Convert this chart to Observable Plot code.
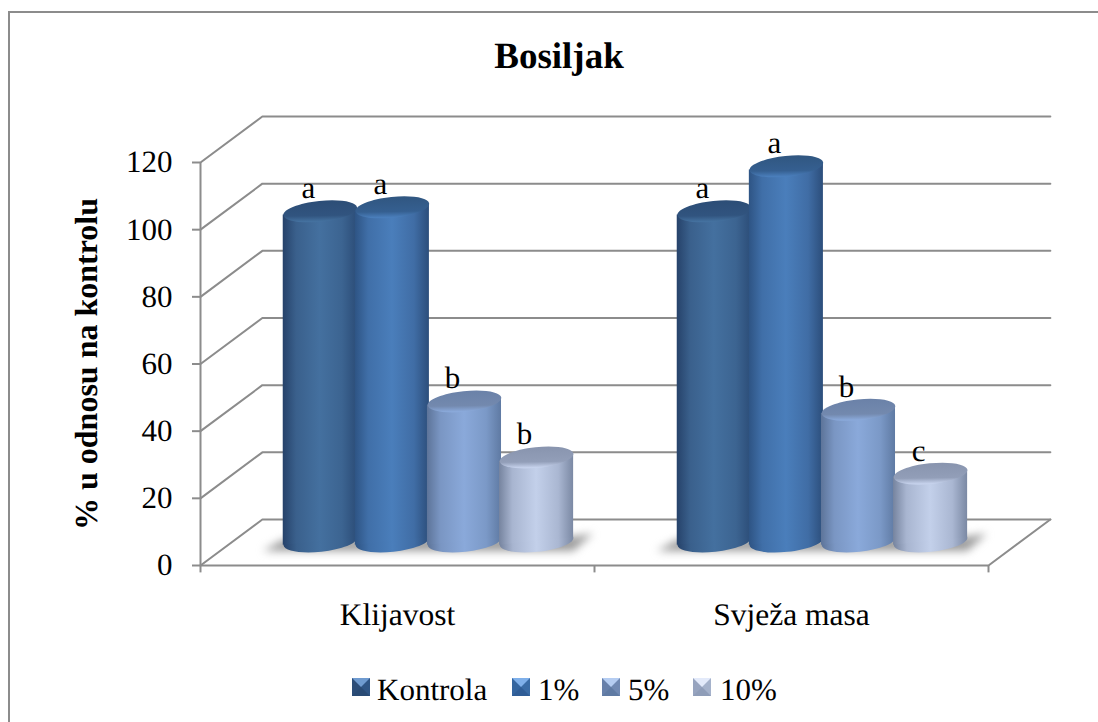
<!DOCTYPE html>
<html><head><meta charset="utf-8">
<script src="https://cdn.jsdelivr.net/npm/d3@7"></script>
<script src="https://cdn.jsdelivr.net/npm/@observablehq/plot@0.6"></script>
<style>
html,body{margin:0;padding:0;background:#fff;width:1098px;height:722px;overflow:hidden;font-family:"Liberation Serif",serif;color:#000;text-rendering:geometricPrecision}
#wrap{position:relative;width:1098px;height:722px}
#border{position:absolute;left:8px;top:11px;right:0;bottom:0;border-left:2px solid #8c8c8c;border-top:2px solid #8c8c8c}
#title{position:absolute;left:0;top:36px;width:1118px;text-align:center;font-weight:bold;font-size:37px;line-height:42px}
#legend{position:absolute;left:0;top:671px;height:38px;font-size:31px;line-height:38px}
#legend span{position:absolute;white-space:nowrap}
#legend i{position:absolute;top:7px;width:0;height:0;border-style:solid;border-width:9px}
svg{position:absolute;left:0;top:0;text-rendering:geometricPrecision}
</style></head><body>
<div id="wrap"><div id="border"></div><div id="title">Bosiljak</div><div id="legend"></div></div>
<script>
const groups = ["Klijavost", "Svježa masa"];
const series = ["Kontrola", "1%", "5%", "10%"];
const klijavost = [98.6, 99.8, 42, 25.3];
const svjezaMasa = [98.6, 112, 39.5, 20.5];
const letters1 = ["a", "a", "b", "b"];
const letters2 = ["a", "a", "b", "c"];
const yTicks = [0, 20, 40, 60, 80, 100, 120];

const depthX = 0.157, depthY = 13.7;      // wall depth in scale units
const spacing = 0.183, barW = 0.188, tilt = 1.1;
const groupValues = [klijavost, svjezaMasa];
const groupLetters = [letters1, letters2];

const bars = groups.flatMap((g, gi) => series.map((s, si) => ({
  group: g, series: s, si,
  cx: gi + 0.5 + depthX / 2 + (si - 1.5) * spacing,
  v: groupValues[gi][si],
  letter: groupLetters[gi][si],
  base: depthY / 2 + 0.3
})));
bars.forEach(b => { b.top = b.v + depthY / 2; });

const bodyRows = bars.flatMap(b => [
  {key: b.group + b.series, si: b.si, x: b.cx - barW / 2, y1: b.base - tilt, y2: b.top - tilt},
  {key: b.group + b.series, si: b.si, x: b.cx + barW / 2, y1: b.base + tilt, y2: b.top + tilt}
]);

const ellipse = {
  draw(ctx, size) {
    const rx = Math.sqrt(size / Math.PI), ry = rx * 0.28, a = -6 * Math.PI / 180;
    const k = 0.5523, c = Math.cos(a), s = Math.sin(a);
    const P = (x, y) => [x * rx * c - y * ry * s, x * rx * s + y * ry * c];
    ctx.moveTo(...P(1, 0));
    ctx.bezierCurveTo(...P(1, k), ...P(k, 1), ...P(0, 1));
    ctx.bezierCurveTo(...P(-k, 1), ...P(-1, k), ...P(-1, 0));
    ctx.bezierCurveTo(...P(-1, -k), ...P(-k, -1), ...P(0, -1));
    ctx.bezierCurveTo(...P(k, -1), ...P(1, -k), ...P(1, 0));
    ctx.closePath();
  }
};

const wallLines = yTicks.flatMap(v => [
  {k: v, x: 0, y: v},
  {k: v, x: depthX, y: v + depthY},
  {k: v, x: 2 + depthX, y: v + depthY}
]);
const floorLine = [
  {x: 0, y: 0}, {x: 2, y: 0}, {x: 2 + depthX, y: depthY}
];

const shadows = groups.flatMap((g, gi) => {
  const c = gi + 0.5 + depthX / 2, h = 1.5 * spacing + barW / 2;
  const l = c - h, r = c + h, b = 4.2;
  return [
    {g, x: l - 0.05, y1: b, y2: b},
    {g, x: l, y1: b, y2: 7.5},
    {g, x: r, y1: b, y2: 8.5},
    {g, x: r + 0.05, y1: 9.4, y2: 9.4}
  ];
});

const grid = "#8c8c8c";
const marks = [
  Plot.line(wallLines, {x: "x", y: "y", z: "k", stroke: grid, strokeWidth: 2}),
  Plot.line(floorLine, {x: "x", y: "y", stroke: grid, strokeWidth: 2}),
  Plot.ruleX([0, 1, 2], {y1: 0, y2: -2.2, stroke: grid, strokeWidth: 2}),
  Plot.ruleX([0], {y1: 0, y2: 120, stroke: grid, strokeWidth: 2}),
  Plot.axisY({ticks: yTicks, tickSize: 8, tickPadding: 20, fontSize: 31, stroke: grid, strokeWidth: 2, fill: "#000", label: null}),
  Plot.axisX({ticks: [0.5, 1.5], tickSize: 0, tickPadding: 37, fontSize: 31.5, fill: "#000", label: null, tickFormat: d => groups[d < 1 ? 0 : 1]}),
  Plot.area(shadows, {x1: "x", y1: "y1", y2: "y2", z: "g", fill: "#9c9c9c", imageFilter: "blur(4px)"})
];
series.forEach((s, si) => {
  const fill = `url(#body${si})`;
  for (const gi of [0, 1]) {
    const key = groups[gi] + s;
    const rows = bodyRows.filter(r => r.key === key);
    const b = bars.filter(d => d.group === groups[gi] && d.si === si);
    marks.push(
      Plot.dot(b, {x: "cx", y: "base", r: 37, symbol: ellipse, fill, stroke: "none"}),
      Plot.area(rows, {x1: "x", y1: "y1", y2: "y2", fill}),
      Plot.dot(b, {x: "cx", y: "top", r: 37, symbol: ellipse, fill: `url(#cap${si})`, stroke: "none"})
    );
  }
});
marks.push(
  Plot.text(bars, {x: "cx", y: "top", text: "letter", dx: -12, dy: -23, fontSize: 31, fill: "#000"}),
  Plot.text(["% u odnosu na kontrolu"], {frameAnchor: "left", dx: -114, rotate: -90, textAnchor: "middle", fontSize: 32, fontWeight: "bold", fill: "#000"})
);

const plot = Plot.plot({
  width: 1098, height: 722,
  marginLeft: 200, marginRight: 110, marginTop: 162, marginBottom: 157,
  style: {fontFamily: "'Liberation Serif',serif", background: "transparent", overflow: "visible"},
  x: {type: "linear", domain: [0, 2], axis: null},
  y: {type: "linear", domain: [0, 120], axis: null},
  marks
});

const ramps = [
  {edge: ["#26426a", "#2c4d78"], mid: "#44709f", cap: ["#2c4d76", "#31547f", "#44719f"]},
  {edge: ["#2e5484", "#2c4e7b"], mid: "#4a7ebb", cap: ["#305680", "#355f90", "#4a7ebb"]},
  {edge: ["#5d7499", "#5f7aa3"], mid: "#8aa9da", cap: ["#6a81a8", "#7389ae", "#8aa9da"]},
  {edge: ["#76849f", "#7b89a4"], mid: "#c3d0ea", cap: ["#8894ae", "#929eb8", "#c6d2ec"]}
];
const defs = d3.select(plot).append("defs");
ramps.forEach((r, i) => {
  const g = defs.append("linearGradient").attr("id", `body${i}`).attr("x1", 0).attr("x2", 1).attr("y1", 0).attr("y2", 0);
  [[0, r.edge[0]], [0.18, d3.interpolateRgb(r.edge[0], r.mid)(0.65)], [0.5, r.mid], [0.8, d3.interpolateRgb(r.edge[1], r.mid)(0.65)], [1, r.edge[1]]]
    .forEach(([o, c]) => g.append("stop").attr("offset", o).attr("stop-color", c));
  const h = defs.append("linearGradient").attr("id", `cap${i}`).attr("x1", 0.3).attr("x2", 0.36).attr("y1", 0).attr("y2", 1);
  [[0, r.cap[0]], [0.7, r.cap[1]], [0.96, r.cap[2]], [1, r.cap[2]]]
    .forEach(([o, c]) => h.append("stop").attr("offset", o).attr("stop-color", c));
});
document.getElementById("wrap").appendChild(plot);

const swatchX = [352, 512, 602, 693], labelX = [377, 538, 628, 720];
const swatch = [
  ["#6f9bd0", "#2f5585", "#294a74", "#2c4d78"],
  ["#7fb0ea", "#3a6ca6", "#2f5d96", "#34659f"],
  ["#b5cdf2", "#7089b3", "#5f7aa3", "#6780aa"],
  ["#e3eafa", "#a5b2cb", "#8f9db8", "#97a4bf"]
];
const legend = document.getElementById("legend");
series.forEach((s, i) => {
  const sw = document.createElement("i");
  sw.style.left = swatchX[i] + "px";
  sw.style.borderColor = swatch[i].join(" ");
  legend.appendChild(sw);
  const t = document.createElement("span");
  t.textContent = s;
  t.style.left = labelX[i] + "px";
  legend.appendChild(t);
});
</script></body></html>
